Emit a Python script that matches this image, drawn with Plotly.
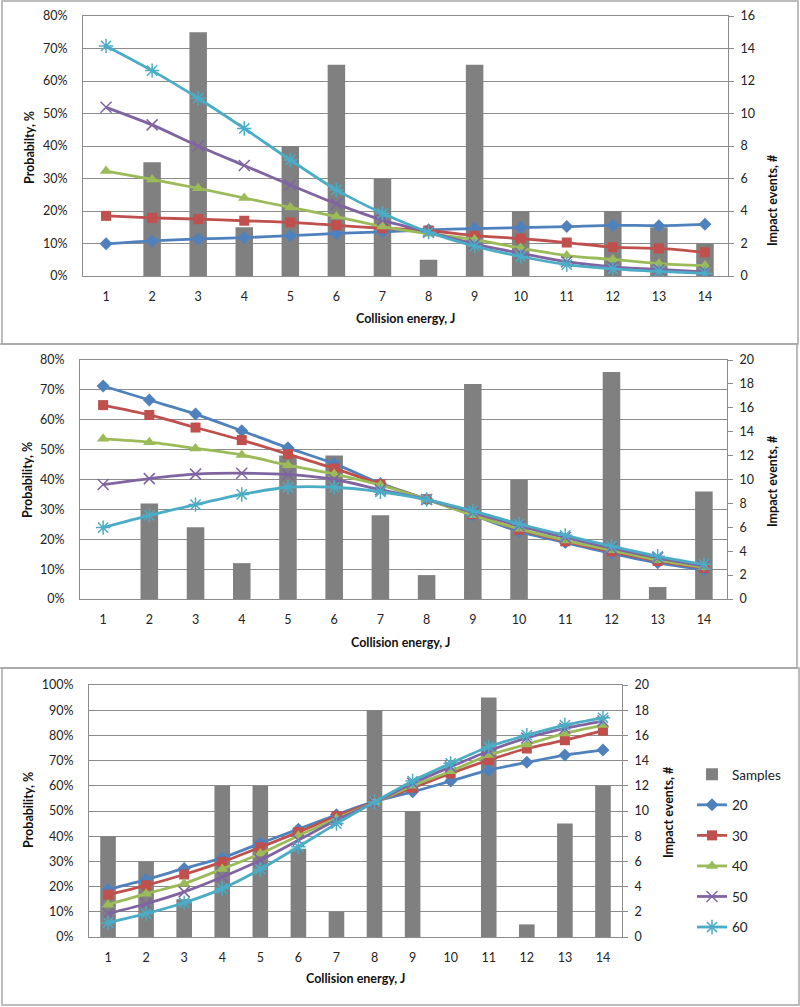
import plotly.graph_objects as go

W, H = 800, 1007

energy = list(range(1, 15))
series_names = ["20", "30", "40", "50", "60"]

# Panel 1
p1_samples = [0, 7, 15, 3, 8, 13, 6, 1, 13, 4, 0, 4, 3, 2]
p1_20 = [9.9, 10.8, 11.4, 11.8, 12.4, 13.1, 13.6, 14.2, 14.6, 14.9, 15.2, 15.6, 15.5, 15.9]
p1_30 = [18.5, 17.9, 17.5, 17.0, 16.5, 15.6, 14.7, 14.0, 12.4, 11.5, 10.3, 8.9, 8.5, 7.3]
p1_40 = [32.3, 29.7, 27.0, 24.0, 21.1, 18.3, 15.2, 13.0, 11.2, 8.6, 6.3, 5.1, 3.8, 3.2]
p1_50 = [51.9, 46.5, 40.0, 34.0, 28.0, 22.2, 17.2, 13.5, 9.8, 7.0, 4.4, 2.8, 2.0, 1.3]
p1_60 = [70.8, 63.2, 54.7, 45.4, 35.7, 26.5, 19.3, 13.5, 9.2, 6.0, 3.5, 2.2, 1.4, 0.8]

# Panel 2
p2_samples = [0, 8, 6, 3, 12, 12, 7, 2, 18, 10, 0, 19, 1, 9]
p2_20 = [71.3, 66.6, 61.9, 56.3, 50.6, 45.3, 38.7, 33.4, 28.1, 22.6, 18.9, 15.3, 12.1, 9.8]
p2_30 = [64.9, 61.6, 57.4, 53.2, 48.5, 43.7, 38.4, 33.4, 28.4, 23.2, 19.3, 15.9, 12.7, 10.4]
p2_40 = [53.6, 52.5, 50.4, 48.2, 44.8, 41.8, 38.1, 33.3, 28.0, 23.5, 19.6, 16.3, 13.0, 10.6]
p2_50 = [38.3, 40.3, 41.8, 42.1, 41.7, 40.0, 36.6, 33.3, 29.0, 24.5, 20.6, 17.0, 13.8, 11.1]
p2_60 = [23.9, 28.0, 31.6, 35.0, 37.4, 37.4, 35.9, 33.3, 29.5, 25.1, 21.3, 17.7, 14.3, 11.6]

# Panel 3
p3_samples = [8, 6, 3, 12, 12, 7, 2, 18, 10, 0, 19, 1, 9, 12]
p3_20 = [18.9, 22.8, 27.2, 31.4, 37.2, 42.8, 48.5, 53.8, 57.6, 61.9, 66.2, 69.3, 72.2, 74.2]
p3_30 = [16.8, 20.5, 24.8, 29.8, 35.6, 41.6, 48.0, 53.6, 59.2, 64.9, 70.2, 74.8, 78.1, 81.9]
p3_40 = [12.8, 17.2, 21.2, 27.0, 33.1, 40.2, 47.0, 53.4, 60.0, 65.8, 72.2, 76.4, 80.8, 84.1]
p3_50 = [9.3, 13.2, 17.9, 23.8, 30.5, 38.4, 46.4, 53.4, 61.0, 67.5, 73.8, 79.0, 82.8, 85.7]
p3_60 = [5.7, 9.3, 13.6, 19.2, 26.9, 35.8, 45.0, 53.6, 61.9, 68.9, 75.5, 80.1, 84.1, 87.0]

colors = ["#4F81BD", "#C0504D", "#9BBB59", "#8064A2", "#4BACC6"]
bar_color = "#808080"
grid_color = "#8c8c8c"
FONT = "Lato"

def px_x(v):
    return v / W

def px_y(v):
    return 1 - v / H

def marker_for(i, c):
    if i == 0:
        return dict(symbol="diamond", size=10, color=c, line=dict(width=0))
    if i == 1:
        return dict(symbol="square", size=10, color=c, line=dict(width=0))
    if i == 2:
        return dict(symbol="triangle-up", size=11, color=c, line=dict(width=0))
    if i == 3:
        return dict(symbol="x-thin-open", size=11, color=c, line=dict(width=1.5, color=c))
    return dict(symbol="asterisk-open", size=12, color=c, line=dict(width=1.5, color=c))

fig = go.Figure()

panels = [
    dict(samples=p1_samples, lines=[p1_20, p1_30, p1_40, p1_50, p1_60],
         xdom=(83, 728), ydom=(16, 276), prange=80, crange=16, cdtick=2, barw=0.38,
         ytitle="Probabilty, %", lt=(29, 147), rt=(773, 200), xt=(405, 318), legend=False),
    dict(samples=p2_samples, lines=[p2_20, p2_30, p2_40, p2_50, p2_60],
         xdom=(80, 727), ydom=(360, 599), prange=80, crange=20, cdtick=2, barw=0.38,
         ytitle="Probability, %", lt=(28, 480), rt=(773, 481), xt=(400, 642), legend=False),
    dict(samples=p3_samples, lines=[p3_20, p3_30, p3_40, p3_50, p3_60],
         xdom=(89, 622), ydom=(685, 937), prange=100, crange=20, cdtick=2, barw=0.41,
         ytitle="Probability, %", lt=(28, 810), rt=(668, 812), xt=(355, 978), legend=True),
]

annotations = []
layout_axes = {}
tick_font = dict(family=FONT, size=12.5, color="#222222")
title_font = dict(family=FONT, size=12.5, color="#111111")

for k, p in enumerate(panels):
    xid = "x" if k == 0 else f"x{k+1}"
    cid_n = 2 * k + 1
    pid_n = 2 * k + 2
    cid = "y" if cid_n == 1 else f"y{cid_n}"
    pid = f"y{pid_n}"

    fig.add_trace(go.Bar(
        x=energy, y=p["samples"], name="Samples", marker=dict(color=bar_color, line=dict(width=0)),
        width=p["barw"], xaxis=xid, yaxis=cid, showlegend=p["legend"], legendgroup="samples",
    ))
    for i, (vals, nm) in enumerate(zip(p["lines"], series_names)):
        fig.add_trace(go.Scatter(
            x=energy, y=vals, name=nm, mode="lines+markers",
            line=dict(color=colors[i], width=2.8, shape="spline", smoothing=0.8),
            marker=marker_for(i, colors[i]), xaxis=xid, yaxis=pid,
            showlegend=p["legend"], legendgroup=f"g{nm}",
        ))

    xkey = "xaxis" if k == 0 else f"xaxis{k+1}"
    ckey = "yaxis" if cid_n == 1 else f"yaxis{cid_n}"
    pkey = f"yaxis{pid_n}"
    layout_axes[xkey] = dict(
        domain=[px_x(p["xdom"][0]), px_x(p["xdom"][1])], anchor=cid, automargin=False,
        range=[0.5, 14.5], tickmode="array", tickvals=energy, ticktext=[str(e) for e in energy],
        showgrid=False, zeroline=False, showline=True, mirror=True, linecolor=grid_color, linewidth=1,
        ticks="", tickfont=tick_font, ticklabelstandoff=9,
    )
    layout_axes[ckey] = dict(
        domain=[px_y(p["ydom"][1]), px_y(p["ydom"][0])], anchor=xid, side="right", automargin=False,
        range=[0, p["crange"]], dtick=p["cdtick"], tick0=0, showgrid=False, zeroline=False,
        showline=True, linecolor=grid_color, linewidth=1, ticks="outside", ticklen=5,
        tickcolor=grid_color, tickfont=tick_font, ticklabelstandoff=4,
    )
    layout_axes[pkey] = dict(
        overlaying=cid, anchor=xid, side="left", range=[0, p["prange"]], dtick=10, tick0=0,
        automargin=False,
        ticksuffix="%", showgrid=True, gridcolor=grid_color, gridwidth=1, zeroline=False,
        showline=True, linecolor=grid_color, linewidth=1, ticks="", tickfont=tick_font,
        ticklabelstandoff=12,
    )

    annotations.append(dict(x=px_x(p["lt"][0]), y=px_y(p["lt"][1]), xref="paper", yref="paper",
                            text=f"<b>{p['ytitle']}</b>", textangle=-90, showarrow=False,
                            font=title_font, xanchor="center", yanchor="middle"))
    annotations.append(dict(x=px_x(p["rt"][0]), y=px_y(p["rt"][1]), xref="paper", yref="paper",
                            text="<b>Impact events, #</b>", textangle=-90, showarrow=False,
                            font=title_font, xanchor="center", yanchor="middle"))
    annotations.append(dict(x=px_x(p["xt"][0]), y=px_y(p["xt"][1]), xref="paper", yref="paper",
                            text="<b>Collision energy, J</b>", showarrow=False,
                            font=title_font, xanchor="center", yanchor="middle"))

border = "#a6a6a6"
shapes = [
    dict(type="rect", xref="paper", yref="paper", x0=px_x(2), x1=px_x(798), y0=px_y(1), y1=px_y(344),
         line=dict(color=border, width=1.5), layer="below"),
    dict(type="rect", xref="paper", yref="paper", x0=px_x(-3), x1=px_x(797), y0=px_y(344), y1=px_y(668),
         line=dict(color=border, width=1.5), layer="below"),
    dict(type="rect", xref="paper", yref="paper", x0=px_x(2), x1=px_x(799), y0=px_y(668), y1=px_y(1005),
         line=dict(color=border, width=1.5), layer="below"),
]

fig.update_layout(
    width=W, height=H, margin=dict(l=0, r=0, t=0, b=0, autoexpand=False),
    paper_bgcolor="white", plot_bgcolor="white",
    font=dict(family=FONT, size=12, color="#222222"),
    annotations=annotations, shapes=shapes,
    legend=dict(x=px_x(692), y=px_y(851), xanchor="left", yanchor="middle",
                font=dict(family=FONT, size=13.5, color="#222222"),
                traceorder="grouped", tracegroupgap=10, bgcolor="rgba(0,0,0,0)",
                itemwidth=30),
    **layout_axes,
)

fig.write_html(
    "out.html",
    config={"displayModeBar": False},
    post_script=(
        "document.documentElement.style.margin='0';"
        "document.body.style.margin='0';"
        "var d=document.getElementById('{plot_id}');"
        "d.style.position='absolute';d.style.top='0px';d.style.left='0px';"
    ),
)
